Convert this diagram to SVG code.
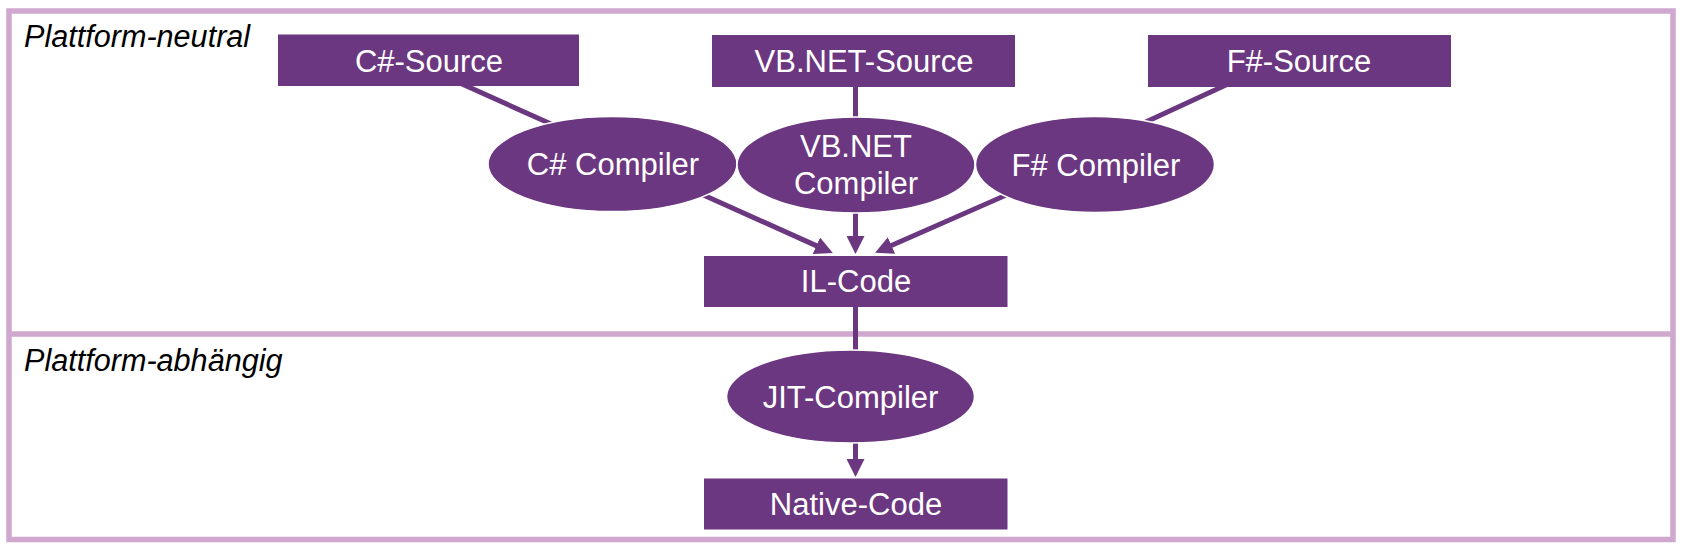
<svg xmlns="http://www.w3.org/2000/svg" width="1684" height="547" viewBox="0 0 1684 547">
<style>
.frame{fill:none;stroke:#cfa7cf;stroke-width:5.5}
.box{fill:#6b3780}
.ell{fill:#6b3780;stroke:#ffffff;stroke-width:1.5}
.lbl{font-family:"Liberation Sans",Arial,sans-serif;font-size:31px;fill:#ffffff;text-anchor:middle}
.zone{font-family:"Liberation Sans",Arial,sans-serif;font-size:30.6px;font-style:italic;fill:#000000}
.con{stroke:#6b3780;stroke-width:5;fill:none}
</style>
<defs>
<marker id="arr" viewBox="0 0 18 18" refX="7" refY="9" markerWidth="18" markerHeight="18" markerUnits="userSpaceOnUse" orient="auto">
<path d="M0,0 L18,9 L0,18 z" fill="#6b3780"/>
</marker>
</defs>
<rect width="1684" height="547" fill="#ffffff"/>
<g id="frame">
<rect class="frame" x="9" y="11" width="1664" height="528.5"/>
<line class="frame" x1="9" y1="334" x2="1673" y2="334"/>
<text class="zone" x="24" y="47">Plattform-neutral</text>
<text class="zone" x="24" y="371">Plattform-abhängig</text>
</g>
<g id="connectors">
<line class="con" x1="462" y1="84" x2="560" y2="128"/>
<line class="con" x1="855.5" y1="86" x2="855.5" y2="125"/>
<line class="con" x1="1228" y1="84" x2="1135" y2="127"/>
<line class="con" x1="690" y1="189" x2="822.8" y2="248.6" marker-end="url(#arr)"/>
<line class="con" x1="855.5" y1="205" x2="855.5" y2="243" marker-end="url(#arr)"/>
<line class="con" x1="1020" y1="189" x2="885.1" y2="248.3" marker-end="url(#arr)"/>
<line class="con" x1="855.5" y1="306" x2="855.5" y2="360"/>
<line class="con" x1="855.5" y1="435" x2="855.5" y2="466" marker-end="url(#arr)"/>
</g>
<g id="cs-source">
<rect class="box" x="278" y="34.5" width="301" height="51.5"/>
<text class="lbl" x="429" y="72">C#-Source</text>
</g>
<g id="vb-source">
<rect class="box" x="712" y="35" width="303" height="52"/>
<text class="lbl" x="864" y="72">VB.NET-Source</text>
</g>
<g id="fs-source">
<rect class="box" x="1148" y="35" width="303" height="52"/>
<text class="lbl" x="1299" y="72">F#-Source</text>
</g>
<g id="cs-compiler">
<ellipse class="ell" cx="612.5" cy="164" rx="124.5" ry="47.5"/>
<text class="lbl" x="613" y="175">C# Compiler</text>
</g>
<g id="vb-compiler">
<ellipse class="ell" cx="856" cy="165" rx="119" ry="48"/>
<text class="lbl" x="856" y="157">VB.NET</text>
<text class="lbl" x="856" y="194">Compiler</text>
</g>
<g id="fs-compiler">
<ellipse class="ell" cx="1095" cy="164.5" rx="119.5" ry="48"/>
<text class="lbl" x="1096" y="176">F# Compiler</text>
</g>
<g id="il-code">
<rect class="box" x="704" y="256" width="303.5" height="51"/>
<text class="lbl" x="856" y="292">IL-Code</text>
</g>
<g id="jit-compiler">
<ellipse class="ell" cx="850.5" cy="396.5" rx="124" ry="46.5"/>
<text class="lbl" x="850.5" y="408">JIT-Compiler</text>
</g>
<g id="native-code">
<rect class="box" x="704" y="478.5" width="303.5" height="51"/>
<text class="lbl" x="856" y="515">Native-Code</text>
</g>
</svg>
